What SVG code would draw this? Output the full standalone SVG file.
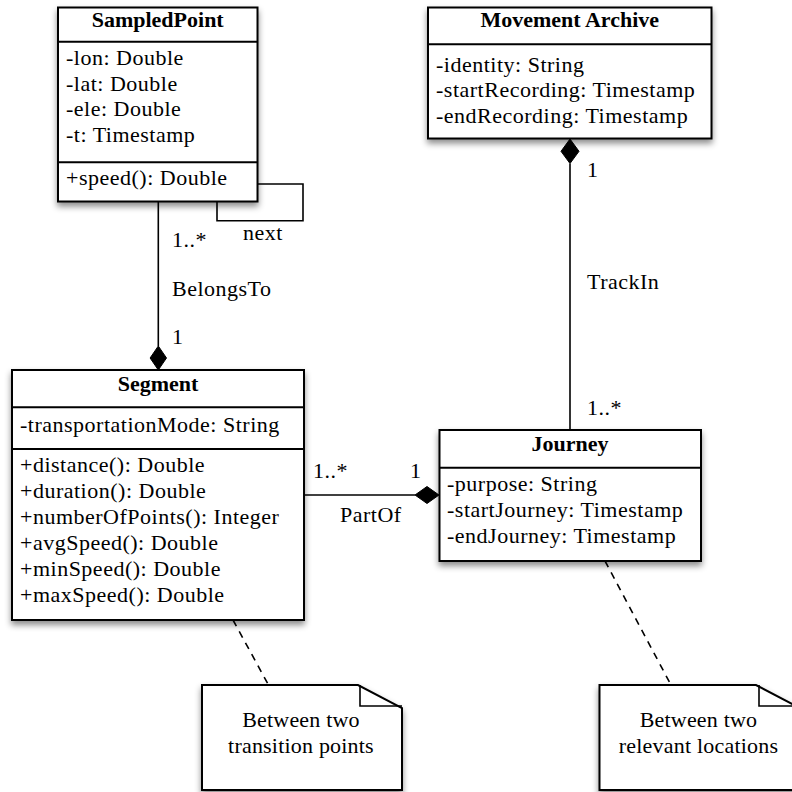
<svg xmlns="http://www.w3.org/2000/svg" width="792" height="792" viewBox="0 0 792 792">
<style>
text{font-family:"Liberation Serif","Times New Roman",serif;font-size:22px;letter-spacing:0.5px;fill:#000}
.t{font-weight:bold;text-anchor:middle;letter-spacing:0}
.c{text-anchor:middle;letter-spacing:0.2px}
.box{fill:#fff;stroke:#000;stroke-width:2;filter:url(#sh)}
.div{stroke:#000;stroke-width:2}
.ln{stroke:#000;stroke-width:1.6;fill:none}
.dash{stroke:#000;stroke-width:1.6;fill:none;stroke-dasharray:7 6}
.dia{fill:#000;stroke:#000;stroke-width:1}
</style>
<defs>
<filter id="sh" x="-10%" y="-10%" width="125%" height="130%">
<feDropShadow dx="0" dy="4" stdDeviation="3" flood-color="#000" flood-opacity="0.45"/>
</filter>
</defs>
<g id="connectors">
<line class="ln" x1="158.3" y1="201.7" x2="158.3" y2="346"/>
<polygon class="dia" points="158.3,346 166.5,358 158.3,370 150.1,358"/>
<polyline class="ln" points="257.5,184 303,184 303,220.7 217,220.7 217,202"/>
<line class="ln" x1="570" y1="163.5" x2="570" y2="430"/>
<polygon class="dia" points="570,139 579,151.3 570,163.5 561,151.3"/>
<line class="ln" x1="304" y1="495" x2="415" y2="495"/>
<polygon class="dia" points="415,495 427,486.5 439,495 427,503.5"/>
<line class="dash" x1="233" y1="620" x2="268.5" y2="685"/>
<line class="dash" x1="605" y1="561" x2="671" y2="685"/>
<text x="172" y="247">1..*</text>
<text x="243" y="240">next</text>
<text x="172" y="296">BelongsTo</text>
<text x="172" y="344">1</text>
<text x="587" y="177">1</text>
<text x="587" y="289">TrackIn</text>
<text x="587" y="415">1..*</text>
<text x="313" y="478">1..*</text>
<text x="410" y="478">1</text>
<text x="340" y="522">PartOf</text>
</g>
<g id="SampledPoint">
<rect class="box" x="58" y="7.5" width="199.5" height="194"/>
<line class="div" x1="58" y1="41.7" x2="257.5" y2="41.7"/>
<line class="div" x1="58" y1="162.3" x2="257.5" y2="162.3"/>
<text class="t" x="157.7" y="27">SampledPoint</text>
<text x="66" y="65">-lon: Double</text>
<text x="66" y="90.7">-lat: Double</text>
<text x="66" y="116.3">-ele: Double</text>
<text x="66" y="142">-t: Timestamp</text>
<text x="66" y="185">+speed(): Double</text>
</g>
<g id="MovementArchive">
<rect class="box" x="428" y="7.5" width="283.5" height="131"/>
<line class="div" x1="428" y1="44.3" x2="711.5" y2="44.3"/>
<text class="t" x="569.8" y="27">Movement Archive</text>
<text x="436" y="71.7">-identity: String</text>
<text x="436" y="97.3">-startRecording: Timestamp</text>
<text x="436" y="122.7">-endRecording: Timestamp</text>
</g>
<g id="Segment">
<rect class="box" x="12" y="370" width="292" height="250"/>
<line class="div" x1="12" y1="407.3" x2="304" y2="407.3"/>
<line class="div" x1="12" y1="449" x2="304" y2="449"/>
<text class="t" x="158" y="390.5">Segment</text>
<text x="20" y="432">-transportationMode: String</text>
<text x="20" y="472">+distance(): Double</text>
<text x="20" y="498">+duration(): Double</text>
<text x="20" y="524">+numberOfPoints(): Integer</text>
<text x="20" y="550">+avgSpeed(): Double</text>
<text x="20" y="576">+minSpeed(): Double</text>
<text x="20" y="602">+maxSpeed(): Double</text>
</g>
<g id="Journey">
<rect class="box" x="439.5" y="430" width="261.5" height="131"/>
<line class="div" x1="439.5" y1="467.7" x2="701" y2="467.7"/>
<text class="t" x="570" y="450.5">Journey</text>
<text x="447" y="491">-purpose: String</text>
<text x="447" y="517">-startJourney: Timestamp</text>
<text x="447" y="543">-endJourney: Timestamp</text>
</g>
<g id="Note1">
<path class="box" d="M202,685 L358,685 L402,708 L402,790 L202,790 Z"/>
<path class="ln" d="M360,685 L360,706 L402,706"/>
<text class="c" x="301" y="726.7">Between two</text>
<text class="c" x="301" y="753">transition points</text>
</g>
<g id="Note2">
<path class="box" d="M599.5,685 L756,685 L800,708 L800,790 L599.5,790 Z"/>
<path class="ln" d="M759,685 L759,706 L800,706"/>
<text class="c" x="698.5" y="726.7">Between two</text>
<text class="c" x="698.5" y="753">relevant locations</text>
</g>
</svg>
